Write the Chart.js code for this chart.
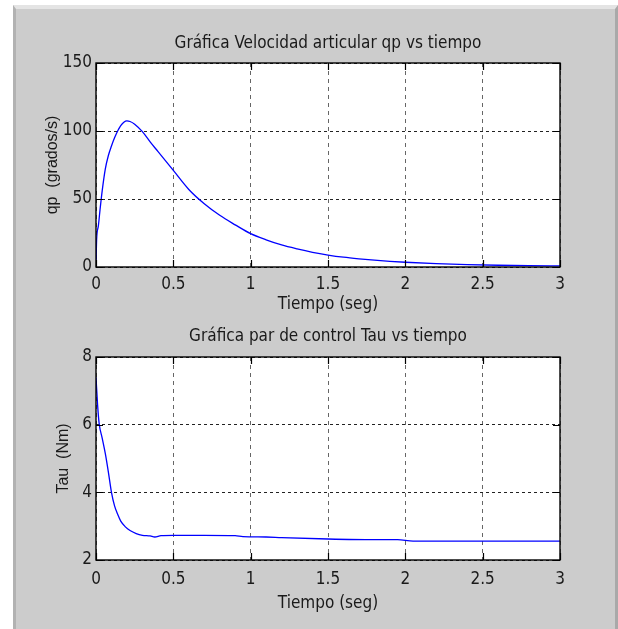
<!DOCTYPE html>
<html>
<head>
<meta charset="utf-8">
<script src="https://cdn.jsdelivr.net/npm/chart.js@4.4.1/dist/chart.umd.min.js"></script>
<style>
  html, body { margin: 0; padding: 0; background: #fff; width: 618px; height: 629px; overflow: hidden; }
  #fig {
    position: absolute; left: 13px; top: 5px; width: 605px; height: 624px;
    box-sizing: border-box; background: #cccccc;
    border-top: 4px solid #e4e4e4; border-left: 3px solid #b2b2b2; border-right: 3px solid #a9a9a9;
  }
  canvas { position: absolute; left: 0; }
</style>
</head>
<body>
<div id="fig"></div>
<canvas id="chart-qp" width="618" height="320" style="top:0"></canvas>
<canvas id="chart-tau" width="618" height="309" style="top:320px"></canvas>
<script>
// values
const xTicks = [0, 0.5, 1, 1.5, 2, 2.5, 3];
const qpTicks = [0, 50, 100, 150];
const tauTicks = [2, 4, 6, 8];

const qpTime = [0, 0.004, 0.015, 0.026, 0.04, 0.06, 0.08, 0.1, 0.12, 0.14, 0.16, 0.18, 0.2, 0.22,
  0.25, 0.3, 0.35, 0.4, 0.45, 0.5, 0.6, 0.7, 0.8, 0.9, 1.0, 1.1, 1.2, 1.3, 1.4, 1.5, 1.6, 1.7,
  1.8, 1.9, 2.0, 2.2, 2.4, 2.6, 2.8, 3.0];
const qpValues = [0, 20, 30, 42, 56, 72, 82, 89, 95, 100, 104, 106.5, 107.5, 107,
  105, 99.5, 92, 85, 78, 71, 57, 46.5, 38, 31, 24.5, 20, 16.2, 13.3, 10.8, 8.8, 7.2, 6,
  5, 4.2, 3.5, 2.5, 1.8, 1.3, 1.0, 0.8];

const tauTime = [0, 0.01, 0.02, 0.04, 0.06, 0.08, 0.1, 0.12, 0.14, 0.16, 0.19, 0.22, 0.26, 0.3,
  0.35, 0.38, 0.42, 0.5, 0.7, 0.9, 0.95, 1.1, 1.2, 1.5, 1.8, 1.95, 2.05, 2.5, 3.0];
const tauValues = [7.4, 6.6, 6.05, 5.6, 5.15, 4.6, 4.0, 3.6, 3.35, 3.15, 2.98, 2.87, 2.78, 2.73,
  2.71, 2.68, 2.72, 2.73, 2.73, 2.72, 2.69, 2.68, 2.66, 2.62, 2.6, 2.6, 2.56, 2.56, 2.555];

const FONT = '"Liberation Sans Narrow", "DejaVu Sans Condensed", "Arial Narrow", "Liberation Sans", sans-serif';
const INK = '#1a1a1a';

// white plot area, black box and inward tick marks like a MATLAB axes
const axesBox = {
  id: 'axesBox',
  beforeDraw(chart) {
    const a = chart.chartArea, c = chart.ctx;
    c.save();
    c.fillStyle = '#fff';
    c.fillRect(a.left, a.top, a.right - a.left, a.bottom - a.top);
    c.restore();
  },
  afterDraw(chart) {
    const a = chart.chartArea, c = chart.ctx;
    const sx = chart.scales.x, sy = chart.scales.y;
    const len = 7;
    c.save();
    c.strokeStyle = '#000';
    c.lineWidth = 1.2;
    c.beginPath();
    sx.ticks.forEach((t) => {
      const px = Math.round(sx.getPixelForValue(t.value)) + 0.5;
      c.moveTo(px, a.bottom); c.lineTo(px, a.bottom - len);
      c.moveTo(px, a.top); c.lineTo(px, a.top + len);
    });
    sy.ticks.forEach((t) => {
      const py = Math.round(sy.getPixelForValue(t.value)) + 0.5;
      c.moveTo(a.left, py); c.lineTo(a.left + len, py);
      c.moveTo(a.right, py); c.lineTo(a.right - len, py);
    });
    c.stroke();
    c.lineWidth = 1.4;
    c.strokeRect(a.left, a.top, a.right - a.left, a.bottom - a.top);
    c.restore();
  },
};

function font(size) {
  return { family: FONT, size: size, weight: 'normal' };
}

function makePlot(id, cfg) {
  const el = document.getElementById(id);
  return new Chart(el, {
    type: 'line',
    data: {
      datasets: [{
        data: cfg.t.map((t, i) => ({ x: t, y: cfg.v[i] })),
        borderColor: '#0000ff',
        borderWidth: 1.3,
        pointRadius: 0,
        fill: false,
        cubicInterpolationMode: 'monotone',
      }],
    },
    options: {
      responsive: false,
      animation: false,
      events: [],
      layout: { padding: { left: 0, right: 58, top: 0, bottom: 0 } },
      plugins: {
        legend: { display: false },
        tooltip: { enabled: false },
        title: {
          display: true,
          text: cfg.title,
          fullSize: false,
          color: INK,
          font: font(17),
          padding: { top: cfg.titleTop, bottom: cfg.titleBottom },
        },
      },
      scales: {
        x: {
          type: 'linear',
          min: 0, max: 3,
          afterBuildTicks: (s) => { s.ticks = xTicks.map((v) => ({ value: v })); },
          afterFit: (s) => { s.height = cfg.xAxisH; },
          grid: { color: '#666', lineWidth: 1, drawTicks: false },
          border: { display: false, dash: [4, 4] },
          ticks: { padding: cfg.xTickPad, color: INK, font: font(17), maxRotation: 0, autoSkip: false,
            callback: (v) => String(v) },
          title: { display: true, text: 'Tiempo (seg)', color: INK, font: font(17),
            padding: { top: 0, bottom: cfg.xTitlePad } },
        },
        y: {
          min: cfg.yTicks[0], max: cfg.yTicks[cfg.yTicks.length - 1],
          afterBuildTicks: (s) => { s.ticks = cfg.yTicks.map((v) => ({ value: v })); },
          afterFit: (s) => { s.width = 96; },
          grid: { color: '#222', lineWidth: 1, drawTicks: false },
          border: { display: false, dash: [3, 3] },
          ticks: { padding: 4, color: INK, font: font(17), callback: (v) => String(v) },
          title: { display: true, text: cfg.yTitle, color: INK,
            font: { family: '"Liberation Sans", Arial, sans-serif', size: 16, weight: 'normal' },
            padding: { top: cfg.yTitlePad, bottom: 0 } },
        },
      },
    },
    plugins: [axesBox],
  });
}

makePlot('chart-qp', {
  t: qpTime, v: qpValues, yTicks: qpTicks,
  title: 'Gráfica Velocidad articular qp vs tiempo',
  yTitle: 'qp  (grados/s)',
  titleTop: 33, titleBottom: 9.6,
  xAxisH: 53, xTickPad: 7, xTitlePad: 5,
  yTitlePad: 43,
});

makePlot('chart-tau', {
  t: tauTime, v: tauValues, yTicks: tauTicks,
  title: 'Gráfica par de control Tau vs tiempo',
  yTitle: 'Tau  (Nm)',
  titleTop: 6, titleBottom: 10.6,
  xAxisH: 69, xTickPad: 9, xTitlePad: 15,
  yTitlePad: 54,
});
</script>
</body>
</html>
